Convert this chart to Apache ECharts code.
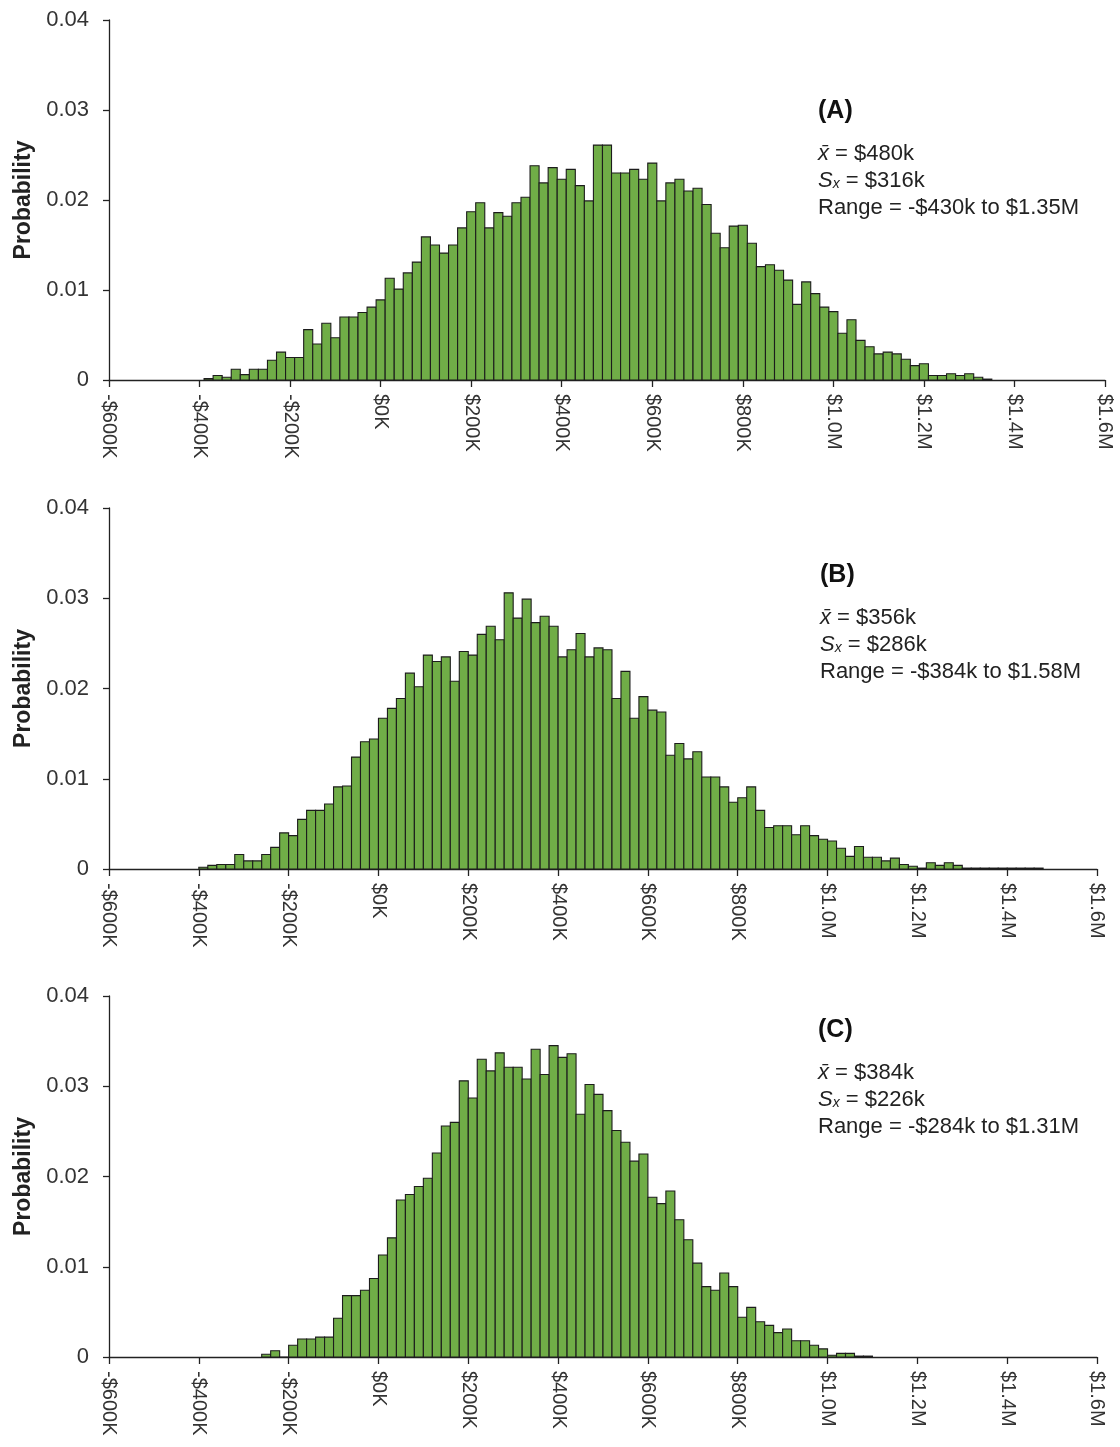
<!DOCTYPE html>
<html>
<head>
<meta charset="utf-8">
<script src="https://cdn.jsdelivr.net/npm/echarts@6.0.0/dist/echarts.min.js"></script>
<style>
  html, body { margin: 0; padding: 0; background: #fff; }
  #chart { width: 1120px; height: 1447px; }
</style>
</head>
<body>
<div id="chart"></div>
<script>
// histogram bin width ($)
var BIN = 20000;

var xTicks = [-600000, -400000, -200000, 0, 200000, 400000, 600000, 800000, 1000000, 1200000, 1400000, 1600000];
var xTickLabels = ['-$600K', '-$400K', '-$200K', '$0K', '$200K', '$400K', '$600K', '$800K', '$1.0M', '$1.2M', '$1.4M', '$1.6M'];
var yTicks = [0, 0.01, 0.02, 0.03, 0.04];
var yTickLabels = ['0', '0.01', '0.02', '0.03', '0.04'];

var panelNames = ['(A)', '(B)', '(C)'];
var meanLabels = ['$480k', '$356k', '$384k'];
var sdLabels = ['$316k', '$286k', '$226k'];
var rangeLabels = ['-$430k to $1.35M', '-$384k to $1.58M', '-$284k to $1.31M'];

// (A) first bin left edge, then one probability per 20K bin
var firstEdgeA = -390000;
var probA = [
  0.00015, 0.0005, 0.0003, 0.0012, 0.0006, 0.0012, 0.0012, 0.0022, 0.0031, 0.0025,
  0.0025, 0.0056, 0.0040, 0.0063, 0.0047, 0.0070, 0.0070, 0.0075, 0.0081, 0.0089,
  0.0113, 0.0101, 0.0119, 0.0131, 0.0159, 0.0150, 0.0141, 0.0150, 0.0169, 0.0187,
  0.0197, 0.0169, 0.0186, 0.0182, 0.0197, 0.0203, 0.0238, 0.0219, 0.0236, 0.0223,
  0.0234, 0.0216, 0.0199, 0.0261, 0.0261, 0.0230, 0.0230, 0.0234, 0.0223, 0.0241,
  0.0199, 0.0219, 0.0223, 0.0210, 0.0213, 0.0195, 0.0163, 0.0147, 0.0171, 0.0172,
  0.0152, 0.0126, 0.0128, 0.0122, 0.0111, 0.0084, 0.0109, 0.0096, 0.0081, 0.0076,
  0.0052, 0.0067, 0.0044, 0.0037, 0.0029, 0.0031, 0.0029, 0.0023, 0.0016, 0.0018,
  0.0005, 0.0005, 0.0007, 0.0005, 0.0007, 0.0003, 0.0001
];

// (B)
var firstEdgeB = -400000;
var probB = [
  0.0002, 0.0004, 0.0005, 0.0005, 0.0016, 0.0009, 0.0009, 0.0016, 0.0024, 0.0040,
  0.0037, 0.0055, 0.0065, 0.0065, 0.0072, 0.0091, 0.0092, 0.0124, 0.0141, 0.0144,
  0.0167, 0.0178, 0.0189, 0.0217, 0.0202, 0.0237, 0.0230, 0.0235, 0.0208, 0.0241,
  0.0237, 0.0260, 0.0269, 0.0254, 0.0306, 0.0278, 0.0299, 0.0273, 0.0280, 0.0269,
  0.0235, 0.0243, 0.0261, 0.0235, 0.0245, 0.0243, 0.0189, 0.0219, 0.0167, 0.0191,
  0.0176, 0.0174, 0.0126, 0.0139, 0.0122, 0.0130, 0.0102, 0.0102, 0.0091, 0.0074,
  0.0079, 0.0091, 0.0065, 0.0046, 0.0048, 0.0048, 0.0038, 0.0048, 0.0037, 0.0033,
  0.0031, 0.0023, 0.0014, 0.0025, 0.0013, 0.0013, 0.0009, 0.0012, 0.0005, 0.0003,
  0.0001, 0.0007, 0.0004, 0.0007, 0.0004, 0.0001, 0.0001, 0.0001, 0.0001, 0.0001,
  0.0001, 0.0001, 0.0001, 0.0001
];

// (C)
var firstEdgeC = -260000;
var probC = [
  0.0003, 0.0007, 0, 0.0013, 0.0020, 0.0020, 0.0022, 0.0022, 0.0043, 0.0068,
  0.0068, 0.0074, 0.0087, 0.0113, 0.0132, 0.0174, 0.0180, 0.0189, 0.0198, 0.0226,
  0.0256, 0.0260, 0.0306, 0.0287, 0.0330, 0.0317, 0.0337, 0.0321, 0.0321, 0.0308,
  0.0341, 0.0313, 0.0345, 0.0332, 0.0336, 0.0269, 0.0302, 0.0291, 0.0273, 0.0251,
  0.0238, 0.0217, 0.0225, 0.0177, 0.0170, 0.0184, 0.0152, 0.0130, 0.0104, 0.0078,
  0.0074, 0.0093, 0.0078, 0.0044, 0.0055, 0.0039, 0.0035, 0.0027, 0.0031, 0.0018,
  0.0018, 0.0013, 0.0009, 0.0002, 0.0004, 0.0004, 0.0001, 0.0001
];

var FONT = '"Liberation Sans", Arial, sans-serif';

function toBins(firstEdge, probs) {
  var out = [];
  for (var i = 0; i < probs.length; i++) {
    out.push([firstEdge + i * BIN, probs[i]]);
  }
  return out;
}

function renderBar(params, api) {
  var left = api.value(0);
  var top = api.coord([left, api.value(1)]);
  var bottom = api.coord([left + BIN, 0]);
  return {
    type: 'rect',
    shape: { x: top[0], y: top[1], width: bottom[0] - top[0], height: bottom[1] - top[1] },
    style: { fill: '#70AD47', stroke: '#1c1c1c', lineWidth: 1.1 }
  };
}

var grids = [
  { left: 109, top: 20, width: 996, height: 360 },
  { left: 109, top: 508, width: 988, height: 361 },
  { left: 109, top: 996, width: 988, height: 361 }
];
var notePos = [[818, 111], [820, 575], [818, 1030]];
var binsList = [toBins(firstEdgeA, probA), toBins(firstEdgeB, probB), toBins(firstEdgeC, probC)];

var xAxes = [], yAxes = [], series = [], graphics = [];
for (var p = 0; p < 3; p++) {
  xAxes.push({
    type: 'value', gridIndex: p,
    min: -600000, max: 1600000, interval: 200000,
    splitLine: { show: false },
    axisLine: { onZero: false, lineStyle: { color: '#222', width: 1.3 } },
    axisTick: { length: 7, lineStyle: { color: '#222', width: 1.3 } },
    axisLabel: {
      rotate: -90, margin: 14, fontSize: 20, fontFamily: FONT, color: '#333',
      formatter: function (v) { var k = xTicks.indexOf(v); return k >= 0 ? xTickLabels[k] : ''; }
    }
  });
  yAxes.push({
    type: 'value', gridIndex: p,
    min: 0, max: 0.04, interval: 0.01,
    name: 'Probability', nameLocation: 'middle', nameGap: 70, nameRotate: 90,
    nameTextStyle: { fontSize: 23, fontWeight: 'bold', fontFamily: FONT, color: '#222' },
    splitLine: { show: false },
    axisLine: { show: true, onZero: false, lineStyle: { color: '#222', width: 1.3 } },
    axisTick: { show: true, length: 6, lineStyle: { color: '#222', width: 1.3 } },
    axisLabel: {
      margin: 20, fontSize: 22, fontFamily: FONT, color: '#333',
      formatter: function (v) {
        for (var k = 0; k < yTicks.length; k++) { if (Math.abs(yTicks[k] - v) < 1e-9) return yTickLabels[k]; }
        return '';
      }
    }
  });
  series.push({
    type: 'custom', xAxisIndex: p, yAxisIndex: p,
    renderItem: renderBar, data: binsList[p], encode: { x: 0, y: 1 },
    animation: false, silent: true, z: 1
  });

  var nx = notePos[p][0], ny = notePos[p][1];
  graphics.push({
    type: 'text', x: nx, y: ny,
    style: { text: panelNames[p], font: 'bold 25px ' + FONT, fill: '#111', verticalAlign: 'middle' }
  });
  graphics.push({
    type: 'text', x: nx, y: ny + 43,
    style: {
      text: '{i|x\u0304} = ' + meanLabels[p], font: '22px ' + FONT, fill: '#222', verticalAlign: 'middle',
      rich: { i: { fontStyle: 'italic', fontSize: 22, fontFamily: FONT, fill: '#222' } }
    }
  });
  graphics.push({
    type: 'text', x: nx, y: ny + 70,
    style: {
      text: '{i|S}{s|x} = ' + sdLabels[p], font: '22px ' + FONT, fill: '#222', verticalAlign: 'middle',
      rich: {
        i: { fontStyle: 'italic', fontSize: 22, fontFamily: FONT, fill: '#222' },
        s: { fontStyle: 'italic', fontSize: 14, fontFamily: FONT, fill: '#222', padding: [6, 0, 0, 0] }
      }
    }
  });
  graphics.push({
    type: 'text', x: nx, y: ny + 97,
    style: { text: 'Range = ' + rangeLabels[p], font: '22px ' + FONT, fill: '#222', verticalAlign: 'middle' }
  });
}

var chart = echarts.init(document.getElementById('chart'), null, { renderer: 'canvas' });
chart.setOption({
  animation: false,
  backgroundColor: '#fff',
  grid: grids,
  xAxis: xAxes,
  yAxis: yAxes,
  series: series,
  graphic: graphics
});
</script>
</body>
</html>
